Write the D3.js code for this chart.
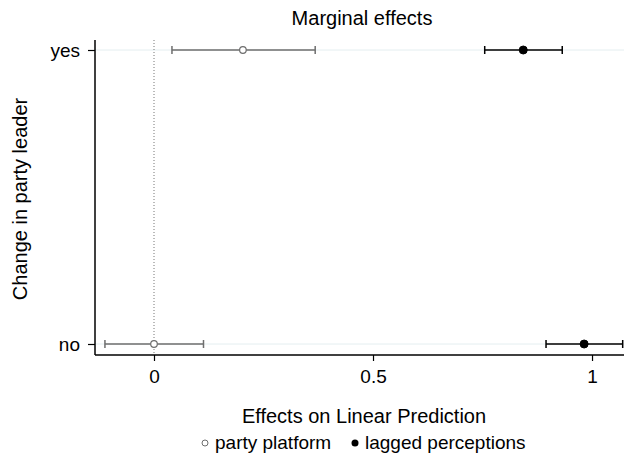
<!DOCTYPE html>
<html>
<head>
<meta charset="utf-8">
<script src="https://cdn.jsdelivr.net/npm/d3@7.9.0/dist/d3.min.js"></script>
<style>
  body { margin: 0; background: #fff; }
  text { font-family: "Liberation Sans", Arial, sans-serif; fill: #000; }
</style>
</head>
<body>
<svg id="chart" width="624" height="455"></svg>
<script>
// data
const categories = ['no', 'yes'];
const seriesNames = ['party platform', 'lagged perceptions'];
const platformEst = [0.0, 0.203];
const platformLo = [-0.112, 0.041];
const platformHi = [0.113, 0.368];
const laggedEst = [0.982, 0.843];
const laggedLo = [0.895, 0.755];
const laggedHi = [1.07, 0.932];
const xTicks = [0, 0.5, 1];

const svg = d3.select('#chart');
const margin = { left: 95, right: 0, top: 40, bottom: 100 };
const W = 624, H = 455;

const x = d3.scaleLinear().domain([-0.1347, 1.073]).range([margin.left, W - margin.right]);
const y = d3.scalePoint().domain(categories).range([344, 50]);
const plotBottom = 355;

// gridlines
svg.selectAll('line.grid')
  .data(categories)
  .join('line')
  .attr('x1', margin.left).attr('x2', W)
  .attr('y1', d => y(d)).attr('y2', d => y(d))
  .attr('stroke', '#e4eef0').attr('stroke-width', 1);

// zero line
svg.append('line')
  .attr('x1', x(0)).attr('x2', x(0))
  .attr('y1', margin.top).attr('y2', plotBottom)
  .attr('stroke', '#777').attr('stroke-width', 1)
  .attr('stroke-dasharray', '1,2');

// axes
const xAxis = svg.append('g')
  .attr('transform', `translate(0,${plotBottom})`)
  .call(d3.axisBottom(x).tickValues(xTicks).tickFormat(d3.format('')).tickSize(6).tickPadding(9));
const yAxis = svg.append('g')
  .attr('transform', `translate(${margin.left},0)`)
  .call(d3.axisLeft(y).tickSize(7).tickPadding(8));
[xAxis, yAxis].forEach(g => {
  g.select('.domain').remove();
  g.selectAll('text').style('font-size', '19px');
  g.selectAll('.tick line').attr('stroke', '#000').attr('stroke-width', 1.2);
});
yAxis.selectAll('text').attr('dy', '0.36em');
svg.append('line').attr('x1', margin.left).attr('x2', W)
  .attr('y1', plotBottom).attr('y2', plotBottom).attr('stroke', '#000').attr('stroke-width', 1.5);
svg.append('line').attr('x1', margin.left).attr('x2', margin.left)
  .attr('y1', margin.top).attr('y2', plotBottom).attr('stroke', '#000').attr('stroke-width', 1.5);

// series
function drawSeries(est, lo, hi, color, filled) {
  const g = svg.append('g');
  const rows = categories.map((c, i) => ({ c, est: est[i], lo: lo[i], hi: hi[i] }));
  g.selectAll('line.ci').data(rows).join('line')
    .attr('x1', d => x(d.lo)).attr('x2', d => x(d.hi))
    .attr('y1', d => y(d.c)).attr('y2', d => y(d.c))
    .attr('stroke', color).attr('stroke-width', 1.5);
  ['lo', 'hi'].forEach(k => {
    g.selectAll('line.cap-' + k).data(rows).join('line')
      .attr('x1', d => x(d[k])).attr('x2', d => x(d[k]))
      .attr('y1', d => y(d.c) - 4).attr('y2', d => y(d.c) + 4)
      .attr('stroke', color).attr('stroke-width', 1.5);
  });
  g.selectAll('circle').data(rows).join('circle')
    .attr('cx', d => x(d.est)).attr('cy', d => y(d.c))
    .attr('r', filled ? 4 : 3.3)
    .attr('fill', filled ? color : '#fff')
    .attr('stroke', color).attr('stroke-width', filled ? 1 : 1.2);
}
drawSeries(platformEst, platformLo, platformHi, '#6e6e6e', false);
drawSeries(laggedEst, laggedLo, laggedHi, '#000', true);

// titles
svg.append('text').attr('x', 362).attr('y', 25).attr('text-anchor', 'middle')
  .style('font-size', '20px').text('Marginal effects');
svg.append('text').attr('x', 364).attr('y', 423).attr('text-anchor', 'middle')
  .style('font-size', '20px').text('Effects on Linear Prediction');
svg.append('text').attr('transform', 'translate(27,199) rotate(-90)').attr('text-anchor', 'middle')
  .style('font-size', '20px').text('Change in party leader');

// legend
const legend = svg.append('g');
legend.append('circle').attr('cx', 205).attr('cy', 443).attr('r', 3)
  .attr('fill', '#fff').attr('stroke', '#6e6e6e').attr('stroke-width', 1);
legend.append('text').attr('x', 215).attr('y', 449).style('font-size', '19px').text(seriesNames[0]);
legend.append('circle').attr('cx', 355).attr('cy', 443).attr('r', 3.5).attr('fill', '#000');
legend.append('text').attr('x', 365).attr('y', 449).style('font-size', '19px').text(seriesNames[1]);
</script>
</body>
</html>
